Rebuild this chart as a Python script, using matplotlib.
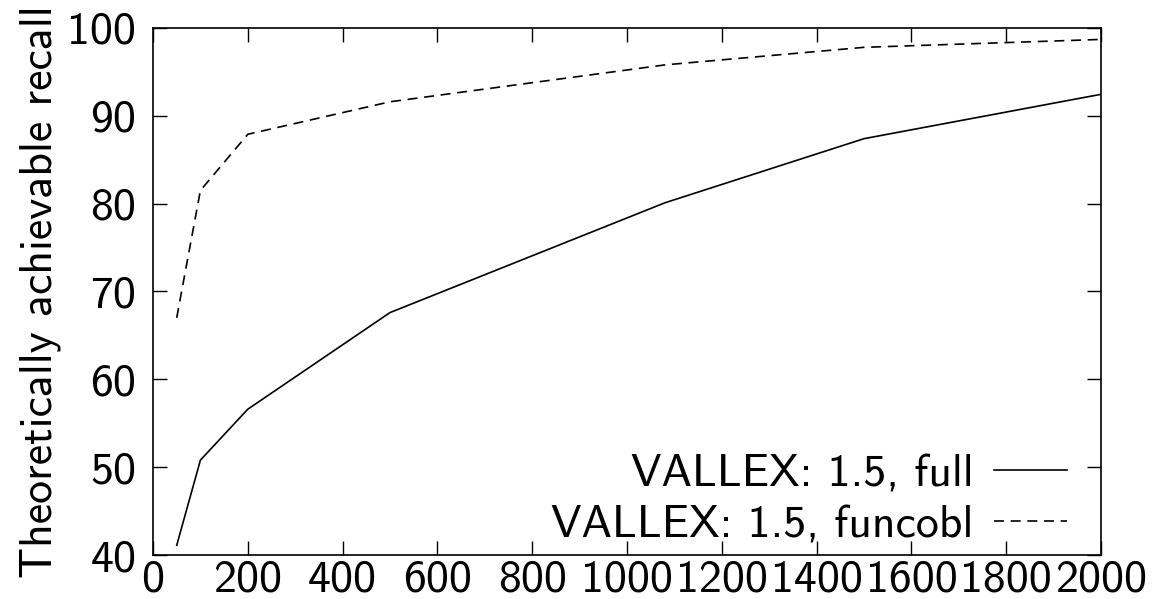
import matplotlib
matplotlib.use("Agg")
import matplotlib.pyplot as plt

# taille du lexique (x) et rappel atteignable (y)
tailles = [50, 100, 200, 500, 1080, 1500, 2000]
rappel_full = [41.1, 50.8, 56.6, 67.6, 80.1, 87.4, 92.45]
rappel_funcobl = [67.0, 81.5, 87.9, 91.6, 95.8, 97.8, 98.7]

x_ticks = [0, 200, 400, 600, 800, 1000, 1200, 1400, 1600, 1800, 2000]
y_ticks = [40, 50, 60, 70, 80, 90, 100]

plt.rcParams['font.family'] = ['cmss10', 'DejaVu Sans']
plt.rcParams['font.size'] = 33

fig = plt.figure(figsize=(11.6, 5.99), dpi=100)
ax = fig.add_axes([153 / 1160, 1 - 555 / 599, (1101 - 153) / 1160, (555 - 28) / 599])

ax.plot(tailles, rappel_full, color='black', lw=1.2, label="VALLEX: 1.5, full")
ax.plot(tailles, rappel_funcobl, color='black', lw=1.2, dashes=(6, 4),
        label="VALLEX: 1.5, funcobl")

ax.set_xlim(0, 2000)
ax.set_ylim(40, 100)
ax.set_xticks(x_ticks)
ax.set_yticks(y_ticks)
ax.tick_params(direction='in', length=10, width=1, top=True, right=True)
ax.tick_params(axis='x', pad=3)
ax.tick_params(axis='y', pad=12)
for s in ax.spines.values():
    s.set_linewidth(1.2)

ax.set_ylabel("Theoretically achievable recall", labelpad=5, fontsize=33)

ax.legend(loc='lower right', bbox_to_anchor=(0.979, -0.01), frameon=False,
          markerfirst=False, handlelength=1.6, handletextpad=0.45,
          labelspacing=0.22, borderaxespad=0.1, borderpad=0.2)

fig.savefig("out.png", dpi=100)
